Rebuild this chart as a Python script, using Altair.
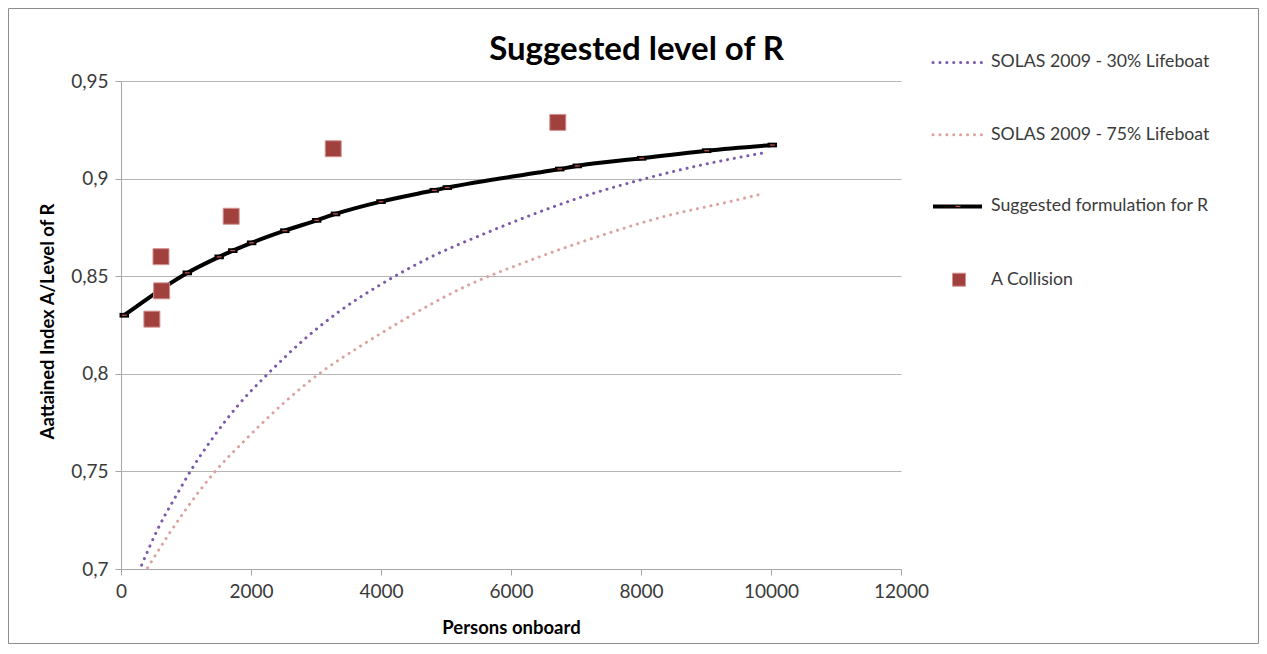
import altair as alt
import pandas as pd

# ---------------- data ----------------
persons_suggested = [50, 1020, 1510, 1720, 2010, 2520, 3010, 3300, 4000, 4820,
                     5020, 6750, 7020, 8010, 9010, 10020]
r_suggested = [0.8300, 0.8517, 0.8599, 0.8631, 0.8671, 0.8733, 0.8786, 0.8819,
               0.8882, 0.8940, 0.8954, 0.9049, 0.9065, 0.9104, 0.9143, 0.9172]

persons_30 = [317, 563, 844, 1100, 1431, 1789, 2275, 2787, 3348, 4039, 4790,
              5557, 6324, 7091, 8011, 8880, 9877]
r_30 = [0.7020, 0.7203, 0.7373, 0.7518, 0.7680, 0.7834, 0.8005, 0.8167, 0.8317,
        0.8466, 0.8602, 0.8713, 0.8815, 0.8906, 0.8995, 0.9066, 0.9131]

persons_75 = [409, 716, 997, 1431, 1917, 2505, 3067, 3681, 4268, 5302, 6324,
              7347, 8370, 9392, 9852]
r_75 = [0.7006, 0.7168, 0.7305, 0.7493, 0.7663, 0.7851, 0.8005, 0.8141, 0.8261,
        0.8448, 0.8585, 0.8704, 0.8807, 0.8884, 0.8921]

persons_collision = [475, 615, 625, 1695, 3265, 6720]
a_collision = [0.8280, 0.8600, 0.8425, 0.8807, 0.9153, 0.9288]

x_ticks = [0, 2000, 4000, 6000, 8000, 10000, 12000]
y_ticks = [0.7, 0.75, 0.8, 0.85, 0.9, 0.95]

title_text = "Suggested level of R"
x_title = "Persons onboard"
y_title = "Aattained Index A/Level of R"
legend_labels = ["SOLAS 2009 - 30% Lifeboat", "SOLAS 2009 - 75% Lifeboat",
                 "Suggested formulation for R", "A Collision"]

# ---------------- styling ----------------
FONT = "Lato"
PURPLE = "#7B5AA8"
PINK = "#DCA4A1"
SQUARE_FILL = "#A0413E"
SQUARE_STROKE = "#D49391"
MARK_RED = "#C0504D"
GRID = "#B5B5B5"
TXT = "#3A3A3A"

W, H = 780, 488

df_s = pd.DataFrame({"persons": persons_suggested, "r": r_suggested})
df_30 = pd.DataFrame({"persons": persons_30, "r": r_30})
df_75 = pd.DataFrame({"persons": persons_75, "r": r_75})
df_c = pd.DataFrame({"persons": persons_collision, "r": a_collision})

x_enc = alt.X("persons:Q",
              scale=alt.Scale(domain=[0, 12000], nice=False, zero=False),
              axis=alt.Axis(values=x_ticks, format="d", grid=False,
                            labelFlush=False,
                            title=x_title, titleY=64,
                            titleBaseline="alphabetic"))
y_enc = alt.Y("r:Q",
              scale=alt.Scale(domain=[0.7, 0.95], nice=False, zero=False),
              axis=alt.Axis(values=y_ticks, grid=True, labelFlush=False,
                            labelExpr="replace(format(datum.value, '.2~f'), '.', ',')",
                            title=y_title, titleAngle=270, titleX=-74, titleY=240,
                            titleAlign="center", titleBaseline="middle"))

dot_style = dict(strokeWidth=3, strokeDash=[0.1, 6.8], strokeCap="round",
                 interpolate="monotone")

line30 = alt.Chart(df_30).mark_line(color=PURPLE, **dot_style).encode(x=x_enc, y=y_enc)
line75 = alt.Chart(df_75).mark_line(color=PINK, **dot_style).encode(x=x_enc, y=y_enc)
line_s = alt.Chart(df_s).mark_line(color="black", strokeWidth=4,
                                   interpolate="monotone").encode(x=x_enc, y=y_enc)
mk_black = alt.Chart(df_s).mark_point(
    shape="M-1,-0.5L1,-0.5L1,0.5L-1,0.5Z", filled=True, color="black",
    size=90, opacity=1).encode(x=x_enc, y=y_enc)
mk_red = alt.Chart(df_s).mark_point(
    shape="M-0.5,-0.14L0.5,-0.14L0.5,0.14L-0.5,0.14Z", filled=True,
    color=MARK_RED, size=90, opacity=1).encode(x=x_enc, y=y_enc)
squares = alt.Chart(df_c).mark_square(
    size=256, fill=SQUARE_FILL, stroke=SQUARE_STROKE, strokeWidth=1,
    opacity=1, fillOpacity=1).encode(x=x_enc, y=y_enc)

one = pd.DataFrame({"k": [0]})

# ---------------- title ----------------
title = alt.Chart(one).mark_text(
    text=title_text, font=FONT, fontSize=33, fontWeight="bold", color="black",
    align="center", baseline="alphabetic").encode(x=alt.value(515.5), y=alt.value(-21.5))

# ---------------- legend (drawn to the right of the plot) ----------------
leg_y = [-18.6, 53.7, 125.4, 198.7]
sym_x0, sym_x1, sym_mid, txt_x = 812, 861, 837, 870

legend_layers = []
legend_layers.append(alt.Chart(one).mark_rule(color=PURPLE, strokeWidth=3,
                                              strokeDash=[0.1, 6.8], strokeCap="round")
                     .encode(x=alt.value(sym_x0), x2=alt.value(sym_x1), y=alt.value(leg_y[0])))
legend_layers.append(alt.Chart(one).mark_rule(color=PINK, strokeWidth=3,
                                              strokeDash=[0.1, 6.8], strokeCap="round")
                     .encode(x=alt.value(sym_x0), x2=alt.value(sym_x1), y=alt.value(leg_y[1])))
legend_layers.append(alt.Chart(one).mark_rule(color="black", strokeWidth=4)
                     .encode(x=alt.value(sym_x0), x2=alt.value(sym_x1), y=alt.value(leg_y[2])))
legend_layers.append(alt.Chart(one).mark_point(
    shape="M-0.5,-0.14L0.5,-0.14L0.5,0.14L-0.5,0.14Z", filled=True,
    color=MARK_RED, size=90, opacity=1)
    .encode(x=alt.value(sym_mid), y=alt.value(leg_y[2])))
legend_layers.append(alt.Chart(one).mark_square(
    size=169, fill=SQUARE_FILL, stroke=SQUARE_STROKE, strokeWidth=1, opacity=1)
    .encode(x=alt.value(sym_mid + 1), y=alt.value(leg_y[3])))
for lab, yy in zip(legend_labels, leg_y):
    legend_layers.append(alt.Chart(one).mark_text(
        text=lab, font=FONT, fontSize=17.7, color=TXT, align="left",
        baseline="middle").encode(x=alt.value(txt_x), y=alt.value(yy)))

# ---------------- outer border ----------------
border = alt.Chart(one).mark_rect(
    fillOpacity=0, stroke="#8C8C8C", strokeWidth=1).encode(
    x=alt.value(-112.5), x2=alt.value(W + 357.5),
    y=alt.value(-72.5), y2=alt.value(H + 74.5))

chart = alt.layer(
    border, line30, line75, line_s, mk_black, mk_red, squares, title,
    *legend_layers
).properties(
    width=W, height=H,
    autosize=alt.AutoSizeParams(type="none"),
    padding={"left": 113, "top": 73, "right": 358, "bottom": 75},
    background="white",
).configure_view(
    stroke=None
).configure_axis(
    labelFont=FONT, labelFontSize=19, labelColor=TXT,
    titleFont=FONT, titleFontSize=18.5, titleFontWeight="bold", titleColor="black",
    domainColor="#A6A6A6", tickColor="#A6A6A6", tickSize=6, tickWidth=1,
    gridColor=GRID, gridWidth=1,
).configure_axisY(
    labelPadding=7,
).configure_axisX(
    labelPadding=7,
)

chart.save("out.html", embed_options={"renderer": "svg", "actions": False})
